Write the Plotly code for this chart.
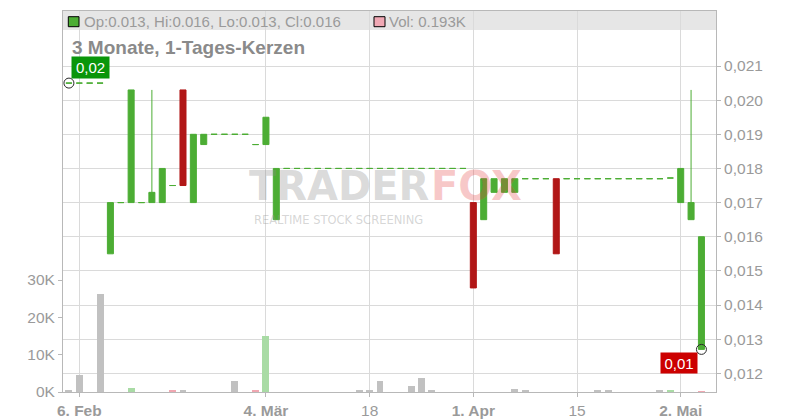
import plotly.graph_objects as go
import numpy as np

# ---------------- data ----------------
dates = [
    "2025-02-05", "2025-02-06", "2025-02-07", "2025-02-10", "2025-02-11", "2025-02-12", "2025-02-13", "2025-02-14",
    "2025-02-17", "2025-02-18", "2025-02-19", "2025-02-20", "2025-02-21", "2025-02-24", "2025-02-25", "2025-02-26",
    "2025-02-27", "2025-02-28", "2025-03-03", "2025-03-04", "2025-03-05", "2025-03-06", "2025-03-07", "2025-03-10",
    "2025-03-11", "2025-03-12", "2025-03-13", "2025-03-14", "2025-03-17", "2025-03-18", "2025-03-19", "2025-03-20",
    "2025-03-21", "2025-03-24", "2025-03-25", "2025-03-26", "2025-03-27", "2025-03-28", "2025-03-31", "2025-04-01",
    "2025-04-02", "2025-04-03", "2025-04-04", "2025-04-07", "2025-04-08", "2025-04-09", "2025-04-10", "2025-04-11",
    "2025-04-14", "2025-04-15", "2025-04-16", "2025-04-17", "2025-04-22", "2025-04-23", "2025-04-24", "2025-04-25",
    "2025-04-28", "2025-04-29", "2025-04-30", "2025-05-02", "2025-05-05", "2025-05-06",
]

opens = [
    0.0205, 0.0205, 0.0205, 0.0205, 0.0155, 0.017, 0.017, 0.017, 0.017, 0.017,
    0.0175, 0.0203, 0.017, 0.0187, 0.019, 0.019, 0.019, 0.019, 0.0187, 0.0187,
    0.0165, 0.018, 0.018, 0.018, 0.018, 0.018, 0.018, 0.018, 0.018, 0.018,
    0.018, 0.018, 0.018, 0.018, 0.018, 0.018, 0.018, 0.018, 0.018, 0.017,
    0.0165, 0.0173, 0.0173, 0.0173, 0.0177, 0.0177, 0.0177, 0.0177, 0.0177, 0.0177,
    0.0177, 0.0177, 0.0177, 0.0177, 0.0177, 0.0177, 0.0177, 0.0177, 0.01772, 0.017,
    0.0165, 0.0127,
]
highs = [
    0.0205, 0.0205, 0.0205, 0.0205, 0.017, 0.017, 0.0203, 0.017, 0.0203, 0.018,
    0.0175, 0.0203, 0.019, 0.019, 0.019, 0.019, 0.019, 0.019, 0.0187, 0.0195,
    0.018, 0.018, 0.018, 0.018, 0.018, 0.018, 0.018, 0.018, 0.018, 0.018,
    0.018, 0.018, 0.018, 0.018, 0.018, 0.018, 0.018, 0.018, 0.018, 0.017,
    0.0177, 0.0177, 0.0177, 0.0177, 0.0177, 0.0177, 0.0177, 0.0177, 0.0177, 0.0177,
    0.0177, 0.0177, 0.0177, 0.0177, 0.0177, 0.0177, 0.0177, 0.0177, 0.01772, 0.018,
    0.0203, 0.016,
]
lows = [
    0.0205, 0.0205, 0.0205, 0.0205, 0.0155, 0.017, 0.017, 0.017, 0.017, 0.017,
    0.0175, 0.0175, 0.017, 0.0187, 0.019, 0.019, 0.019, 0.019, 0.0187, 0.0187,
    0.0165, 0.018, 0.018, 0.018, 0.018, 0.018, 0.018, 0.018, 0.018, 0.018,
    0.018, 0.018, 0.018, 0.018, 0.018, 0.018, 0.018, 0.018, 0.018, 0.0145,
    0.0165, 0.0173, 0.0173, 0.0173, 0.0177, 0.0177, 0.0177, 0.0155, 0.0177, 0.0177,
    0.0177, 0.0177, 0.0177, 0.0177, 0.0177, 0.0177, 0.0177, 0.0177, 0.01772, 0.017,
    0.0165, 0.0127,
]
closes = [
    0.0205, 0.0205, 0.0205, 0.0205, 0.017, 0.017, 0.0203, 0.017, 0.0173, 0.018,
    0.0175, 0.0175, 0.019, 0.019, 0.019, 0.019, 0.019, 0.019, 0.0187, 0.0195,
    0.018, 0.018, 0.018, 0.018, 0.018, 0.018, 0.018, 0.018, 0.018, 0.018,
    0.018, 0.018, 0.018, 0.018, 0.018, 0.018, 0.018, 0.018, 0.018, 0.0145,
    0.0177, 0.0177, 0.0177, 0.0177, 0.0177, 0.0177, 0.0177, 0.0155, 0.0177, 0.0177,
    0.0177, 0.0177, 0.0177, 0.0177, 0.0177, 0.0177, 0.0177, 0.0177, 0.01772, 0.018,
    0.017, 0.016,
]
volumes = [
    300, 4600, 0, 26300, 0, 0, 1150, 0, 0, 0,
    350, 350, 0, 0, 0, 0, 3000, 0, 600, 15000,
    0, 0, 0, 0, 0, 0, 0, 0, 600, 350,
    3000, 0, 0, 1700, 3800, 400, 0, 0, 0, 0,
    0, 0, 0, 900, 350, 0, 0, 0, 0, 0,
    0, 300, 300, 0, 0, 0, 0, 600, 300, 0,
    0, 193,
]

x_tick_dates = ["2025-02-06", "2025-03-04", "2025-03-18", "2025-04-01", "2025-04-15", "2025-05-02"]
x_tick_labels = ["<b>6. Feb</b>", "<b>4. Mär</b>", "18", "<b>1. Apr</b>", "15", "<b>2. Mai</b>"]
price_ticks = [0.012, 0.013, 0.014, 0.015, 0.016, 0.017, 0.018, 0.019, 0.020, 0.021]
volume_ticks = [0, 10000, 20000, 30000]
volume_tick_labels = ["0K", "10K", "20K", "30K"]
title_text = "3 Monate, 1-Tages-Kerzen"

# ---------------- styles ----------------
GREEN = "#4cad34"
RED = "#b11717"
VGRAY = "#c1c1c1"
VGREEN = "#a9dba5"
VPINK = "#f0a7b1"
TXT = "#9a9a9a"
GRID = "#dadada"
FRAME = "#b8b8b8"
FONT = "Liberation Sans, Arial, sans-serif"

W, H = 800, 420
ML, MR, MT, MB = 63, 84, 11, 28
PW, PH = W - ML - MR, H - MT - MB


def px(xp):
    return (xp - ML) / PW


def py(yp):
    return (H - MB - yp) / PH


fig = go.Figure()

# volume colours derived from close vs previous close
vol_colors = []
for k, c in enumerate(closes):
    prev = closes[k - 1] if k > 0 else c
    vol_colors.append(VGREEN if c > prev else (VPINK if c < prev else VGRAY))

fig.add_trace(go.Bar(
    x=dates, y=volumes, yaxis="y2", width=0.67,
    marker=dict(color=vol_colors, line=dict(width=0)),
    hoverinfo="skip", showlegend=False,
))


def candles(mask, color):
    sel = [k for k, m in enumerate(mask) if m]
    return go.Candlestick(
        x=[dates[k] for k in sel],
        open=[opens[k] for k in sel], high=[highs[k] for k in sel],
        low=[lows[k] for k in sel], close=[closes[k] for k in sel],
        increasing=dict(line=dict(color=color, width=1), fillcolor=color),
        decreasing=dict(line=dict(color=color, width=1), fillcolor=color),
        whiskerwidth=0, hoverinfo="skip", showlegend=False,
    )


up = [c >= o for o, c in zip(opens, closes)]
fig.add_trace(candles(up, GREEN))
fig.add_trace(candles([not u for u in up], RED))

imax = int(np.argmax(highs))
imin = int(np.argmin(lows))
fig.add_trace(go.Scatter(
    x=[dates[imax], dates[imin]], y=[highs[imax], lows[imin]], mode="markers",
    marker=dict(symbol="circle-open", size=10, color="#2a2a2a", line=dict(width=1)),
    hoverinfo="skip", showlegend=False,
))


def fmt2(v):
    return f"{v:.2f}".replace(".", ",")


annotations = [
    dict(x=dates[imax], y=highs[imax], xref="x", yref="y", text=fmt2(highs[imax]),
         showarrow=False, xanchor="left", yanchor="bottom", xshift=2, yshift=4,
         width=35, height=19, bgcolor="#0a960a", font=dict(color="white", size=15, family=FONT)),
    dict(x=dates[imin], y=lows[imin], xref="x", yref="y", text=fmt2(lows[imin]),
         showarrow=False, xanchor="right", yanchor="top", xshift=-3, yshift=-3,
         width=34, height=18, bgcolor="#cc0000", font=dict(color="white", size=15, family=FONT)),
    dict(x=px(82), y=py(21.5), xref="paper", yref="paper", showarrow=False, xanchor="left", yanchor="middle",
         text=f"Op:{opens[-1]:.3f}, Hi:{highs[-1]:.3f}, Lo:{lows[-1]:.3f}, Cl:{closes[-1]:.3f}",
         font=dict(color=TXT, size=15, family=FONT)),
    dict(x=px(387), y=py(21.5), xref="paper", yref="paper", showarrow=False, xanchor="left", yanchor="middle",
         text=f"Vol: {volumes[-1] / 1000:.3f}K", font=dict(color=TXT, size=15, family=FONT)),
    dict(x=px(70), y=py(47), xref="paper", yref="paper", showarrow=False, xanchor="left", yanchor="middle",
         text=f"<b>{title_text}</b>", font=dict(color="#8a8a8a", size=19, family=FONT)),
    # watermark
    dict(x=px(431), y=py(186), xref="paper", yref="paper", showarrow=False, xanchor="right", yanchor="middle",
         text="<b>TRADER</b>", font=dict(color="rgba(140,140,140,0.33)", size=40, family="DejaVu Sans")),
    dict(x=px(429), y=py(186), xref="paper", yref="paper", showarrow=False, xanchor="left", yanchor="middle",
         text="<b>FOX</b>", font=dict(color="rgba(230,60,60,0.28)", size=40, family="DejaVu Sans")),
    dict(x=px(338), y=py(220), xref="paper", yref="paper", showarrow=False, xanchor="center", yanchor="middle",
         text="REALTIME STOCK SCREENING", font=dict(color="rgba(150,150,150,0.4)", size=11.5, family="DejaVu Sans")),
]

shapes = [
    dict(type="rect", xref="paper", yref="paper", x0=0, x1=1, y0=py(30), y1=1,
         fillcolor="#e6e6e6", line=dict(width=0), layer="below"),
    dict(type="rect", xref="paper", yref="paper", x0=px(68.3), x1=px(79), y0=py(26.7), y1=py(16.7),
         fillcolor=GREEN, line=dict(color="black", width=1)),
    dict(type="rect", xref="paper", yref="paper", x0=px(374), x1=px(385), y0=py(26.7), y1=py(16.7),
         fillcolor="#f0a8b4", line=dict(color="black", width=1)),
]

fig.update_layout(
    width=W, height=H,
    margin=dict(l=ML, r=MR, t=MT, b=MB, pad=0, autoexpand=False),
    paper_bgcolor="white", plot_bgcolor="rgba(0,0,0,0)",
    separators=",.",
    font=dict(family=FONT, color=TXT, size=15),
    showlegend=False,
    boxgap=0.42, boxgroupgap=0,
    bargap=0,
    annotations=annotations, shapes=shapes,
    xaxis=dict(
        type="category", categoryorder="array", categoryarray=dates,
        range=[-0.572, 62.404], rangeslider=dict(visible=False),
        tickmode="array", tickvals=x_tick_dates, ticktext=x_tick_labels,
        showgrid=True, gridcolor=GRID, gridwidth=1, automargin=False,
        showline=True, linecolor=FRAME, linewidth=1, mirror=True,
        ticks="outside", ticklen=4, tickcolor=FRAME,
        tickfont=dict(size=15.5, color=TXT, family=FONT),
        fixedrange=True,
    ),
    yaxis=dict(
        side="right", range=[0.011452, 0.022612],
        tickmode="array", tickvals=price_ticks, tickformat=".3f",
        showgrid=True, gridcolor=GRID, gridwidth=1, zeroline=False, automargin=False,
        showline=True, linecolor=FRAME, linewidth=1, mirror=True,
        ticks="outside", ticklen=4, tickcolor=FRAME,
        tickfont=dict(size=15.5, color=TXT, family=FONT),
    ),
    yaxis2=dict(
        overlaying="y", side="left", range=[0, 102060],
        tickmode="array", tickvals=volume_ticks, ticktext=volume_tick_labels,
        showgrid=False, zeroline=False, showline=False, automargin=False,
        ticks="outside", ticklen=4, tickcolor=FRAME,
        tickfont=dict(size=15.5, color=TXT, family=FONT),
    ),
)

fig.write_html(
    "out.html",
    config={"displayModeBar": False},
    post_script="document.body.style.margin='0';document.body.style.overflow='hidden';",
)
